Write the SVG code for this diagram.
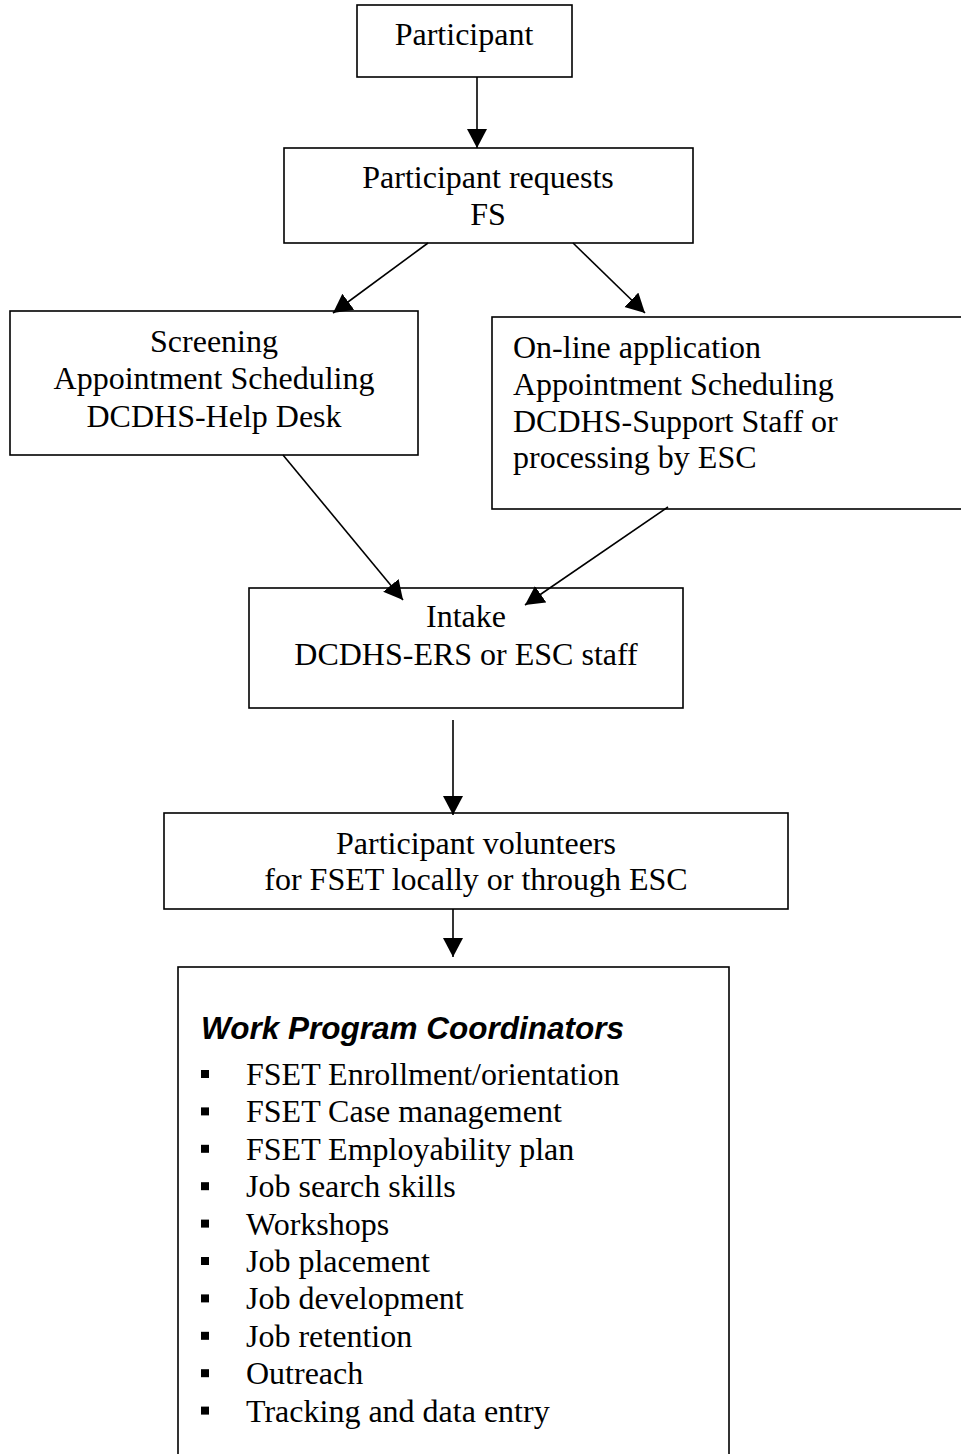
<svg xmlns="http://www.w3.org/2000/svg" width="961" height="1454" viewBox="0 0 961 1454">
<defs>
<style>
.box{fill:#fff;stroke:#000;stroke-width:1.6}
.t{font-family:"Liberation Serif","Times New Roman",serif;font-size:32px;fill:#000}
.c{text-anchor:middle}
.h{font-family:"Liberation Sans",Arial,sans-serif;font-size:31.5px;font-weight:bold;font-style:italic;fill:#000}
.ln{stroke:#000;stroke-width:1.6;fill:none;marker-end:url(#ah)}
.b{fill:#000}
</style>
<marker id="ah" markerUnits="userSpaceOnUse" markerWidth="20" markerHeight="21" refX="19" refY="10" orient="auto" viewBox="0 0 20 21">
<path d="M0,0 L19,10 L0,20 z" fill="#000"/>
</marker>
</defs>
<rect width="961" height="1454" fill="#fff"/>

<g id="n-participant">
<rect class="box" x="357" y="5" width="215" height="72"/>
<text class="t c" x="464" y="45">Participant</text>
</g>

<g id="n-requests">
<rect class="box" x="284" y="148" width="409" height="95"/>
<text class="t c" x="488" y="188">Participant requests</text>
<text class="t c" x="488" y="225">FS</text>
</g>

<g id="n-screening">
<rect class="box" x="10" y="311" width="408" height="144"/>
<text class="t c" x="214" y="352">Screening</text>
<text class="t c" x="214" y="389">Appointment Scheduling</text>
<text class="t c" x="214" y="427">DCDHS-Help Desk</text>
</g>

<g id="n-online">
<rect class="box" x="492" y="317" width="475" height="192"/>
<text class="t" x="513" y="358">On-line application</text>
<text class="t" x="513" y="395">Appointment Scheduling</text>
<text class="t" x="513" y="432">DCDHS-Support Staff or</text>
<text class="t" x="513" y="468">processing by ESC</text>
</g>

<g id="n-intake">
<rect class="box" x="249" y="588" width="434" height="120"/>
<text class="t c" x="466" y="627">Intake</text>
<text class="t c" x="466" y="665">DCDHS-ERS or ESC staff</text>
</g>

<g id="n-volunteers">
<rect class="box" x="164" y="813" width="624" height="96"/>
<text class="t c" x="476" y="854">Participant volunteers</text>
<text class="t c" x="476" y="890">for FSET locally or through ESC</text>
</g>

<g id="n-work">
<rect class="box" x="178" y="967" width="551" height="500"/>
<text class="h" x="201" y="1039">Work Program Coordinators</text>
<g class="b">
<rect x="201" y="1070" width="8" height="8"/>
<rect x="201" y="1107.4" width="8" height="8"/>
<rect x="201" y="1144.8" width="8" height="8"/>
<rect x="201" y="1182.2" width="8" height="8"/>
<rect x="201" y="1219.6" width="8" height="8"/>
<rect x="201" y="1257" width="8" height="8"/>
<rect x="201" y="1294.4" width="8" height="8"/>
<rect x="201" y="1331.8" width="8" height="8"/>
<rect x="201" y="1369.2" width="8" height="8"/>
<rect x="201" y="1406.6" width="8" height="8"/>
</g>
<text class="t" x="246" y="1085">FSET Enrollment/orientation</text>
<text class="t" x="246" y="1122.4">FSET Case management</text>
<text class="t" x="246" y="1159.8">FSET Employability plan</text>
<text class="t" x="246" y="1197.2">Job search skills</text>
<text class="t" x="246" y="1234.6">Workshops</text>
<text class="t" x="246" y="1272">Job placement</text>
<text class="t" x="246" y="1309.4">Job development</text>
<text class="t" x="246" y="1346.8">Job retention</text>
<text class="t" x="246" y="1384.2">Outreach</text>
<text class="t" x="246" y="1421.6">Tracking and data entry</text>
</g>

<g id="connectors">
<line class="ln" x1="477" y1="77" x2="477" y2="148"/>
<line class="ln" x1="428" y1="243" x2="333" y2="313"/>
<line class="ln" x1="573" y1="243" x2="645" y2="313"/>
<line class="ln" x1="283" y1="455" x2="403" y2="600"/>
<line class="ln" x1="668" y1="507" x2="525" y2="605"/>
<line class="ln" x1="453" y1="720" x2="453" y2="815"/>
<line class="ln" x1="453" y1="909" x2="453" y2="957"/>
</g>
</svg>
